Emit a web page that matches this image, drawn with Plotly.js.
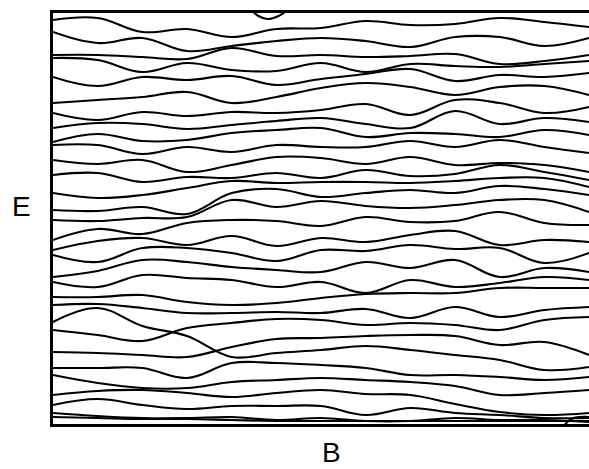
<!DOCTYPE html>
<html>
<head>
<meta charset="utf-8">
<script src="https://cdn.plot.ly/plotly-3.0.1.min.js"></script>
<style>
  html, body { margin: 0; padding: 0; background: #fff; }
  #chart { width: 589px; height: 469px; }
</style>
</head>
<body>
<div id="chart"></div>
<script>
// Magnetic field samples (arbitrary units) shared by all levels
const fieldB = [0, 1, 2, 3, 4, 5, 6, 7, 8, 9, 10, 11, 12];

// Energy levels E(B) (arbitrary units), top to bottom
const level01 = [405, 407, 393, 396, 388, 396, 397, 404, 400, 401, 407, 403, 398];
const level02 = [393, 382, 387, 374, 379, 384, 387, 384, 378, 388, 388, 379, 387];
const level03 = [370, 370, 368, 366, 377, 369, 370, 368, 369, 371, 361, 364, 370];
const level04 = [367, 365, 353, 362, 355, 354, 362, 353, 361, 359, 358, 361, 364];
const level05 = [348, 339, 348, 345, 349, 340, 346, 351, 356, 344, 350, 348, 352];
const level06 = [322, 325, 328, 333, 322, 328, 337, 342, 338, 330, 338, 339, 330];
const level07 = [312, 305, 313, 309, 313, 312, 315, 321, 310, 325, 322, 312, 318];
const level08 = [297, 302, 301, 296, 300, 304, 307, 301, 297, 314, 301, 307, 303];
const level09 = [283, 291, 284, 285, 292, 295, 297, 288, 292, 291, 288, 295, 290];
const level10 = [280, 280, 271, 278, 273, 280, 278, 278, 284, 278, 285, 278, 272];
const level11 = [265, 261, 265, 253, 260, 268, 267, 261, 268, 260, 262, 260, 253];
const level12 = [250, 252, 243, 248, 247, 252, 247, 255, 249, 251, 260, 253, 245];
const level13 = [232, 227, 230, 237, 244, 242, 243, 243, 242, 244, 247, 247, 238];
const level14 = [215, 214, 218, 211, 232, 236, 228, 232, 235, 232, 239, 236, 230];
const level15 = [205, 204, 207, 208, 225, 218, 224, 219, 217, 220, 225, 225, 213];
const level16 = [185, 196, 191, 202, 205, 204, 199, 208, 203, 204, 213, 202, 200];
const level17 = [175, 184, 187, 180, 189, 179, 187, 183, 190, 194, 180, 185, 183];
const level18 = [170, 163, 177, 177, 172, 164, 175, 174, 180, 176, 177, 162, 172];
const level19 = [148, 154, 165, 163, 158, 155, 153, 163, 157, 165, 148, 157, 153];
const level20 = [143, 138, 150, 147, 145, 138, 143, 132, 145, 138, 142, 148, 145];
const level21 = [128, 128, 130, 123, 120, 122, 127, 131, 132, 132, 137, 137, 137];
const level22 = [120, 121, 117, 112, 112, 113, 112, 116, 107, 118, 108, 115, 118];
const level23 = [103, 117, 99, 89, 68, 72, 75, 79, 75, 70, 65, 55, 58];
const level24 = [95, 90, 84, 97, 102, 106, 105, 100, 102, 100, 95, 105, 108];
const level25 = [73, 72, 70, 68, 78, 86, 87, 89, 90, 89, 80, 83, 70];
const level26 = [57, 57, 57, 47, 62, 62, 60, 57, 50, 50, 48, 45, 48];
const level27 = [50, 42, 37, 37, 43, 45, 47, 45, 43, 39, 30, 32, 35];
const level28 = [30, 34, 35, 32, 28, 32, 35, 31, 30, 21, 13, 10, 12];
const level29 = [20, 26, 20, 16, 19, 19, 19, 10, 17, 12, 10, 7, 7];
const level30 = [12, 9, 7, 7, 8, 5, 7, 4, 4, 7, 5, 5, 3];
const level31 = [8, 7, 6, 6, 5, 4, 4, 4, 4, 4, 4, 4, 4];

// Short level segments that only dip into the window
const topArcB = [4.4, 4.6, 4.8, 5.05, 5.3];
const topArcE = [417, 409, 406, 409, 417];
const bottomArcB = [11.4, 11.6, 11.8, 12];
const bottomArcE = [-3, 6, 8, 8];

const levels = [level01, level02, level03, level04, level05, level06, level07, level08,
  level09, level10, level11, level12, level13, level14, level15, level16, level17,
  level18, level19, level20, level21, level22, level23, level24, level25, level26,
  level27, level28, level29, level30, level31];

const lineStyle = { color: '#000', width: 2.1, shape: 'spline', smoothing: 1.1 };

const traces = levels.map(e => ({
  x: fieldB, y: e, type: 'scatter', mode: 'lines',
  line: lineStyle, hoverinfo: 'skip', showlegend: false
}));
traces.push({ x: topArcB, y: topArcE, type: 'scatter', mode: 'lines',
  line: lineStyle, hoverinfo: 'skip', showlegend: false });
traces.push({ x: bottomArcB, y: bottomArcE, type: 'scatter', mode: 'lines',
  line: lineStyle, hoverinfo: 'skip', showlegend: false });

const layout = {
  width: 589, height: 469,
  margin: { l: 53, r: 0, t: 13, b: 45, pad: 0 },
  paper_bgcolor: '#fff', plot_bgcolor: '#fff',
  showlegend: false,
  xaxis: {
    range: [0, 12], showline: true, linewidth: 3, linecolor: '#000', mirror: true,
    showgrid: false, zeroline: false, showticklabels: false, ticks: ''
  },
  yaxis: {
    range: [1, 412], showline: true, linewidth: 3, linecolor: '#000', mirror: false,
    showgrid: false, zeroline: false, showticklabels: false, ticks: ''
  },
  annotations: [
    { text: 'E', xref: 'paper', yref: 'paper', x: -0.0597, y: 0.53,
      xanchor: 'center', yanchor: 'middle', showarrow: false,
      font: { family: 'Liberation Sans, Arial, sans-serif', size: 28, color: '#000' } },
    { text: 'B', xref: 'paper', yref: 'paper', x: 0.5205, y: -0.113,
      xanchor: 'center', yanchor: 'bottom', showarrow: false,
      font: { family: 'Liberation Sans, Arial, sans-serif', size: 28, color: '#000' } }
  ]
};

Plotly.newPlot('chart', traces, layout, { staticPlot: true, displayModeBar: false });
</script>
</body>
</html>
